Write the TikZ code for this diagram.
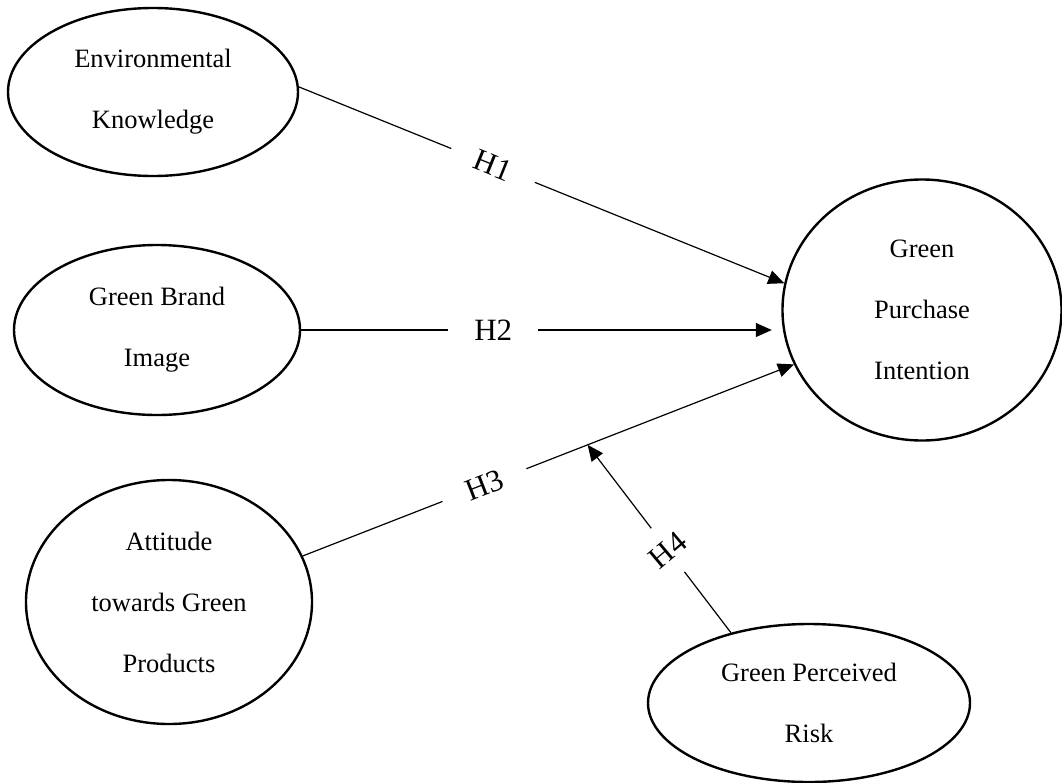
\documentclass[tikz,border=0pt]{standalone}
\usepackage{fontspec}
\setmainfont{Liberation Serif}
\usetikzlibrary{shapes.geometric,arrows.meta}
\begin{document}
\begin{tikzpicture}[x=1pt,y=-1pt,
  construct/.style={ellipse,draw,line width=2.4pt,inner sep=0pt,align=center,
    font=\fontsize{26.5}{61}\selectfont},
  conn/.style={line width=1.2pt},
  arr/.style={conn,-{Triangle[length=16pt,width=14pt]}},
  hyp/.style={fill=white,inner xsep=26pt,inner ysep=4pt,font=\fontsize{31}{37}\selectfont},
  hypperp/.style={fill=white,inner xsep=3pt,inner ysep=17pt,font=\fontsize{31}{37}\selectfont}]
\useasboundingbox (0,0) rectangle (1062,782);
\node[construct,minimum width=290pt,minimum height=168pt] (env) at (153,92) {Environmental\\Knowledge};
\node[construct,minimum width=286pt,minimum height=170pt] (gbi) at (157,330) {Green Brand\\Image};
\node[construct,minimum width=286pt,minimum height=244pt] (att) at (169,602) {Attitude\\towards Green\\Products};
\node[construct,minimum width=279pt,minimum height=261pt] (gpi) at (922,310) {Green\\Purchase\\Intention};
\node[construct,minimum width=322pt,minimum height=158pt] (risk) at (809,703) {Green Perceived\\Risk};
\draw[arr] (env.2) -- node[hyp,sloped,pos=.40] {H1} (gpi.169);
\draw[arr,shorten >=9.5pt] (gbi.east) -- node[hyp,pos=.40] {H2} (gbi.east -| gpi.west);
\draw[arr] (att.19) -- node[hyp,sloped,pos=.37] {H3} coordinate[pos=.58] (h3pt) (gpi.203);
\draw[arr] (risk.138) -- node[hypperp,rotate=40,pos=.44] {H4} (h3pt);
\end{tikzpicture}
\end{document}
